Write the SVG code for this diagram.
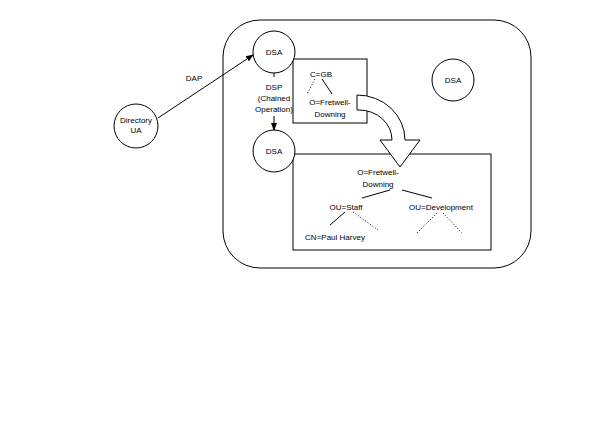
<svg xmlns="http://www.w3.org/2000/svg" width="594" height="445" viewBox="0 0 594 445">
<style>
text{font-family:"Liberation Sans",Arial,sans-serif;font-size:8px;fill:#000;text-anchor:middle}
.s{fill:none;stroke:#000;stroke-width:1}
.w{fill:#fff;stroke:#000;stroke-width:1}
.d{fill:none;stroke:#000;stroke-width:1;stroke-dasharray:1,2}
</style>
<defs>
<marker id="ah" markerWidth="8" markerHeight="8" refX="7" refY="4" orient="auto" markerUnits="userSpaceOnUse">
<path d="M0,1 L8,4 L0,7 Z" fill="#000"/>
</marker>
</defs>
<rect width="594" height="445" fill="#fff"/>
<g id="domain"><rect class="s" x="223" y="20" width="308" height="248" rx="37" ry="37"/></g>
<g id="box-gb">
<rect class="s" x="293" y="59" width="74" height="64"/>
<text x="321" y="77">C=GB</text>
<line class="d" x1="315" y1="79" x2="307" y2="94"/>
<line class="s" x1="322" y1="79" x2="332" y2="94"/>
<text x="330" y="105">O=Fretwell-</text>
<text x="330" y="117">Downing</text>
</g>
<g id="box-fd">
<rect class="s" x="293" y="154" width="198" height="96"/>
<text x="378" y="175">O=Fretwell-</text>
<text x="378" y="187">Downing</text>
<line class="s" x1="362" y1="198" x2="390" y2="190"/>
<line class="s" x1="402" y1="190" x2="432" y2="198"/>
<text x="346" y="210">OU=Staff</text>
<text x="441" y="210">OU=Development</text>
<line class="s" x1="345" y1="212" x2="330" y2="225"/>
<line class="d" x1="353" y1="212" x2="378" y2="230"/>
<text x="335" y="240">CN=Paul Harvey</text>
<line class="d" x1="437" y1="213" x2="417" y2="233"/>
<line class="d" x1="443" y1="213" x2="462" y2="233"/>
</g>
<g id="transfer-arrow">
<path class="w" d="M357,95 A48,45 0 0 1 405,140 L420,140 L400,167 L380,140 L392,140 A33,30 0 0 0 359,110 L357,110 Z"/>
</g>
<g id="dsa1"><circle class="w" cx="274" cy="52" r="21"/><text x="274" y="55">DSA</text></g>
<g id="dsa2"><circle class="w" cx="274" cy="151" r="21"/><text x="274" y="154">DSA</text></g>
<g id="dsa3"><circle class="w" cx="453" cy="80" r="21"/><text x="453" y="83">DSA</text></g>
<g id="dua"><circle class="w" cx="136" cy="126" r="22"/><text x="136" y="123">Directory</text><text x="136" y="133">UA</text></g>
<g id="connectors">
<line class="s" x1="158" y1="118" x2="253" y2="55" marker-end="url(#ah)"/>
<text x="194" y="81">DAP</text>
<line class="s" x1="274" y1="73" x2="274" y2="77"/>
<line class="s" x1="274" y1="116" x2="274" y2="130" marker-end="url(#ah)"/>
<text x="274" y="90">DSP</text>
<text x="274" y="101">(Chained</text>
<text x="274" y="112">Operation)</text>
</g>
</svg>
